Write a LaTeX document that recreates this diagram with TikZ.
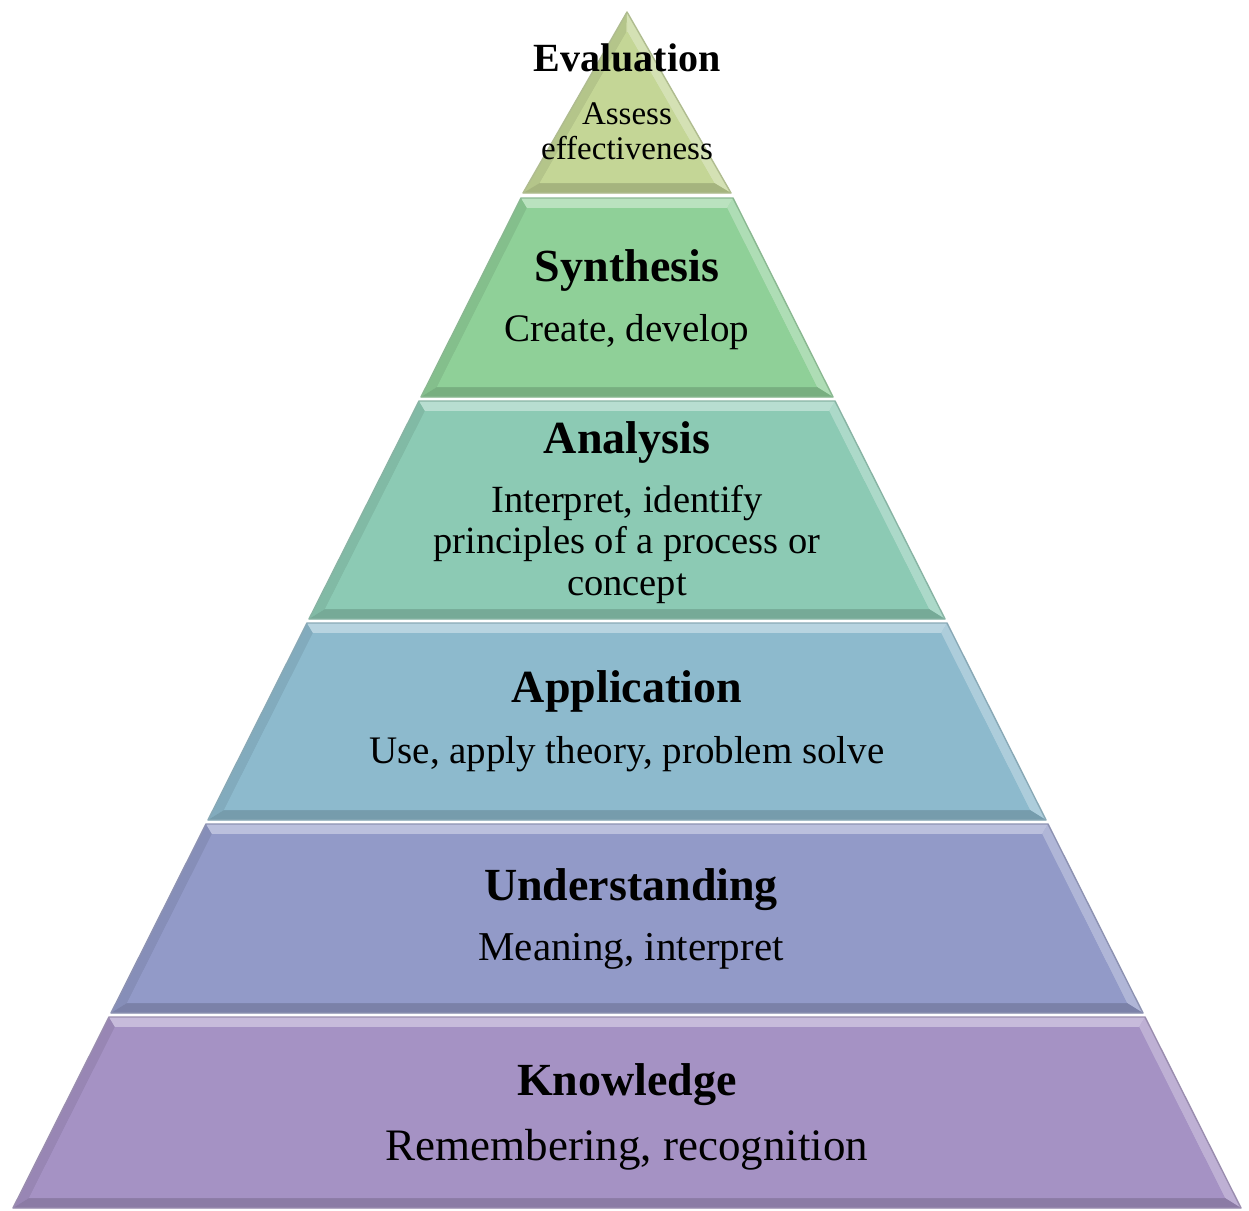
\documentclass[tikz,border=0pt]{standalone}
\usepackage{fontspec}
\setmainfont{Liberation Serif}
\definecolor{evalc}{RGB}{196,214,150}
\definecolor{synthc}{RGB}{143,208,152}
\definecolor{analc}{RGB}{140,202,180}
\definecolor{applc}{RGB}{141,186,205}
\definecolor{undc}{RGB}{146,154,200}
\definecolor{knowc}{RGB}{165,146,196}
% #1 name, #2 y top, #3 y bottom, #4 half width top, #5 half width bottom, #6 colour, #7 inner top y
\newcommand{\pyrlayer}[7]{%
 \pgfmathsetmacro\sl{(#5-#4)/(#3-#2)}%
 \pgfmathsetmacro\yit{#7}%
 \pgfmathsetmacro\yib{#3-10}%
 \pgfmathsetmacro\hit{max(#4+\sl*(\yit-#2)-11,0)}%
 \pgfmathsetmacro\hib{#4+\sl*(\yib-#2)-11}%
 \coordinate (#1-A) at ({627-#4},#2);
 \coordinate (#1-B) at ({627+#4},#2);
 \coordinate (#1-C) at ({627+#5},#3);
 \coordinate (#1-D) at ({627-#5},#3);
 \coordinate (#1-Ai) at ({627-\hit},\yit);
 \coordinate (#1-Bi) at ({627+\hit},\yit);
 \coordinate (#1-Ci) at ({627+\hib},\yib);
 \coordinate (#1-Di) at ({627-\hib},\yib);
 \fill[#6] (#1-A) -- (#1-B) -- (#1-C) -- (#1-D) -- cycle;
 \fill[#6!92!black] (#1-A) -- (#1-Ai) -- (#1-Di) -- (#1-D) -- cycle;
 \fill[#6!72!white] (#1-B) -- (#1-C) -- (#1-Ci) -- (#1-Bi) -- cycle;
 \fill[#6!62!white] (#1-A) -- (#1-B) -- (#1-Bi) -- (#1-Ai) -- cycle;
 \fill[#6!84!black] (#1-D) -- (#1-C) -- (#1-Ci) -- (#1-Di) -- cycle;
 \fill[#6] (#1-Ai) -- (#1-Bi) -- (#1-Ci) -- (#1-Di) -- cycle;
 \draw[#6!70!gray, line width=1.4pt, line join=round] (#1-A) -- (#1-B) -- (#1-C) -- (#1-D) -- cycle;
}
\tikzset{
 ttl/.style={anchor=base, font=\fontsize{46}{50}\selectfont\bfseries, inner sep=0pt},
 sub/.style={anchor=base, font=\fontsize{39}{42}\selectfont, inner sep=0pt}
}
\begin{document}
\begin{tikzpicture}[x=1pt,y=-1pt]
\useasboundingbox (0,0) rectangle (1249,1210);
\fill[white] (0,0) rectangle (1249,1210);
\pyrlayer{know}{1017}{1208}{518}{614}{knowc}{1027}
\pyrlayer{und}{824}{1013}{421}{516}{undc}{834}
\pyrlayer{appl}{623}{820}{320}{419}{applc}{633}
\pyrlayer{anal}{401}{619}{208}{318}{analc}{411}
\pyrlayer{synth}{198}{397}{106}{206}{synthc}{208}
\pyrlayer{eval}{12}{193}{0}{104}{evalc}{32}
% texts
\node[ttl, font=\fontsize{40}{44}\selectfont\bfseries] (evalT) at (627,71) {Evaluation};
\node[sub, font=\fontsize{33}{36}\selectfont] (evalS1) at (627,124) {Assess};
\node[sub, font=\fontsize{33}{36}\selectfont] (evalS2) at (627,159) {effectiveness};
\node[ttl] (synthT) at (627,281) {Synthesis};
\node[sub] (synthS) at (627,341) {Create, develop};
\node[ttl] (analT) at (627,453) {Analysis};
\node[sub, font=\fontsize{38.5}{42}\selectfont] (analS1) at (627,512) {Interpret, identify};
\node[sub, font=\fontsize{38.5}{42}\selectfont] (analS2) at (627,553) {principles of a process or};
\node[sub, font=\fontsize{38.5}{42}\selectfont] (analS3) at (627,595) {concept};
\node[ttl] (applT) at (627,702) {Application};
\node[sub] (applS) at (627,763) {Use, apply theory, problem solve};
\node[ttl] (undT) at (631,900) {Understanding};
\node[sub, font=\fontsize{41}{44}\selectfont] (undS) at (631,960) {Meaning, interpret};
\node[ttl] (knowT) at (627,1095) {Knowledge};
\node[sub, font=\fontsize{45}{48}\selectfont] (knowS) at (627,1160) {Remembering, recognition};
\end{tikzpicture}
\end{document}
